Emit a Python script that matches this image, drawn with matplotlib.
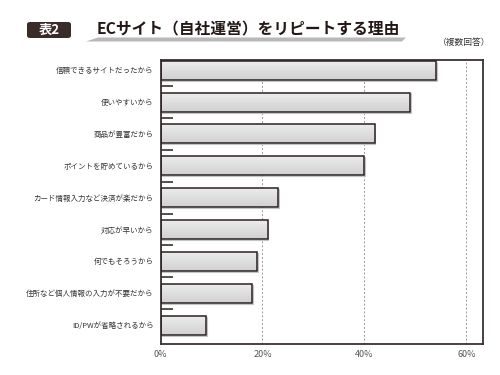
import matplotlib
matplotlib.use("Agg")
import matplotlib.pyplot as plt
import numpy as np
from matplotlib.patches import FancyBboxPatch, Polygon
from matplotlib.colors import LinearSegmentedColormap

plt.rcParams['font.family'] = ['Noto Sans CJK JP', 'DejaVu Sans']

categories = ["信頼できるサイトだったから", "使いやすいから", "商品が豊富だから",
              "ポイントを貯めているから", "カード情報入力など決済が楽だから",
              "対応が早いから", "何でもそろうから", "住所など個人情報の入力が不要だから",
              "ID/PWが省略されるから"]
values = [54, 49, 42, 40, 23, 21, 19, 18, 9]
xticks = [0, 20, 40, 60]
xticklabels = ["0%", "20%", "40%", "60%"]

fig = plt.figure(figsize=(5, 3.75), dpi=100)
ax = fig.add_axes([0.321, 0.082, 0.6444, 0.758])

y = np.arange(len(categories))
bh = 0.6
grad = np.linspace(0, 1, 64).reshape(-1, 1)
cmap = LinearSegmentedColormap.from_list("g", ["#eeeeee", "#d0d0d0"])
bars = ax.barh(y, values, height=bh, color="none", edgecolor="#2a2020", linewidth=1.1, zorder=3)
for b in bars:
    x0, y0 = b.get_x(), b.get_y()
    w, h = b.get_width(), b.get_height()
    ax.add_patch(plt.Rectangle((x0 + 0.15, y0 + 0.03), w, h, facecolor="none",
                               edgecolor="#c4c4c4", linewidth=0.8, zorder=2))
    im = ax.imshow(grad, extent=(x0, x0 + w, y0 + h, y0), cmap=cmap, aspect="auto", zorder=2.5)
    im.set_clip_path(b)

ax.set_xlim(0, 63.2)
ax.set_ylim(8.6, -0.32)
ax.set_xticks(xticks)
ax.set_xticklabels(xticklabels, fontsize=6.5, color="#555555")
ax.set_yticks(y)
ax.set_yticklabels(categories, fontsize=5.4, color="#333333")
ax.tick_params(axis="both", length=0, pad=5)
ax.tick_params(axis="x", pad=4)
ax.xaxis.grid(True, linestyle=(0, (2, 2)), color="#999999", linewidth=0.7, zorder=1)
ax.set_axisbelow(True)
for sp in ax.spines.values():
    sp.set_color("#3a3030")
    sp.set_linewidth(1.3)

for k in range(len(categories) - 1):
    ax.plot([0, 2.4], [k + 0.5, k + 0.5], color="#3a3030", linewidth=1.2, zorder=4,
            solid_capstyle="butt", clip_on=False)

box = FancyBboxPatch((27 / 500, 1 - 38 / 375), 44 / 500, 16 / 375,
                     boxstyle="round,pad=0,rounding_size=0.006",
                     transform=fig.transFigure, facecolor="#3a2a28", edgecolor="none")
fig.patches.append(box)
fig.text(49 / 500, 1 - 30 / 375, "表2", color="white", fontsize=9.5, fontweight="bold",
         ha="center", va="center")
swoosh = Polygon([(86 / 500, 1 - 41.5 / 375), (98 / 500, 1 - 37.5 / 375),
                  (406 / 500, 1 - 37.5 / 375), (402 / 500, 1 - 41.5 / 375)],
                 closed=True, transform=fig.transFigure, facecolor="#b8b8b8", edgecolor="none")
fig.patches.append(swoosh)
fig.text(97 / 500, 1 - 29.5 / 375, "ECサイト（自社運営）をリピートする理由", color="#231815",
         fontsize=11.3, fontweight="bold", ha="left", va="center")
fig.text(490 / 500, 1 - 42 / 375, "（複数回答）", color="#333333", fontsize=6.3,
         ha="right", va="center")

fig.savefig("out.png", dpi=100, facecolor="white")
